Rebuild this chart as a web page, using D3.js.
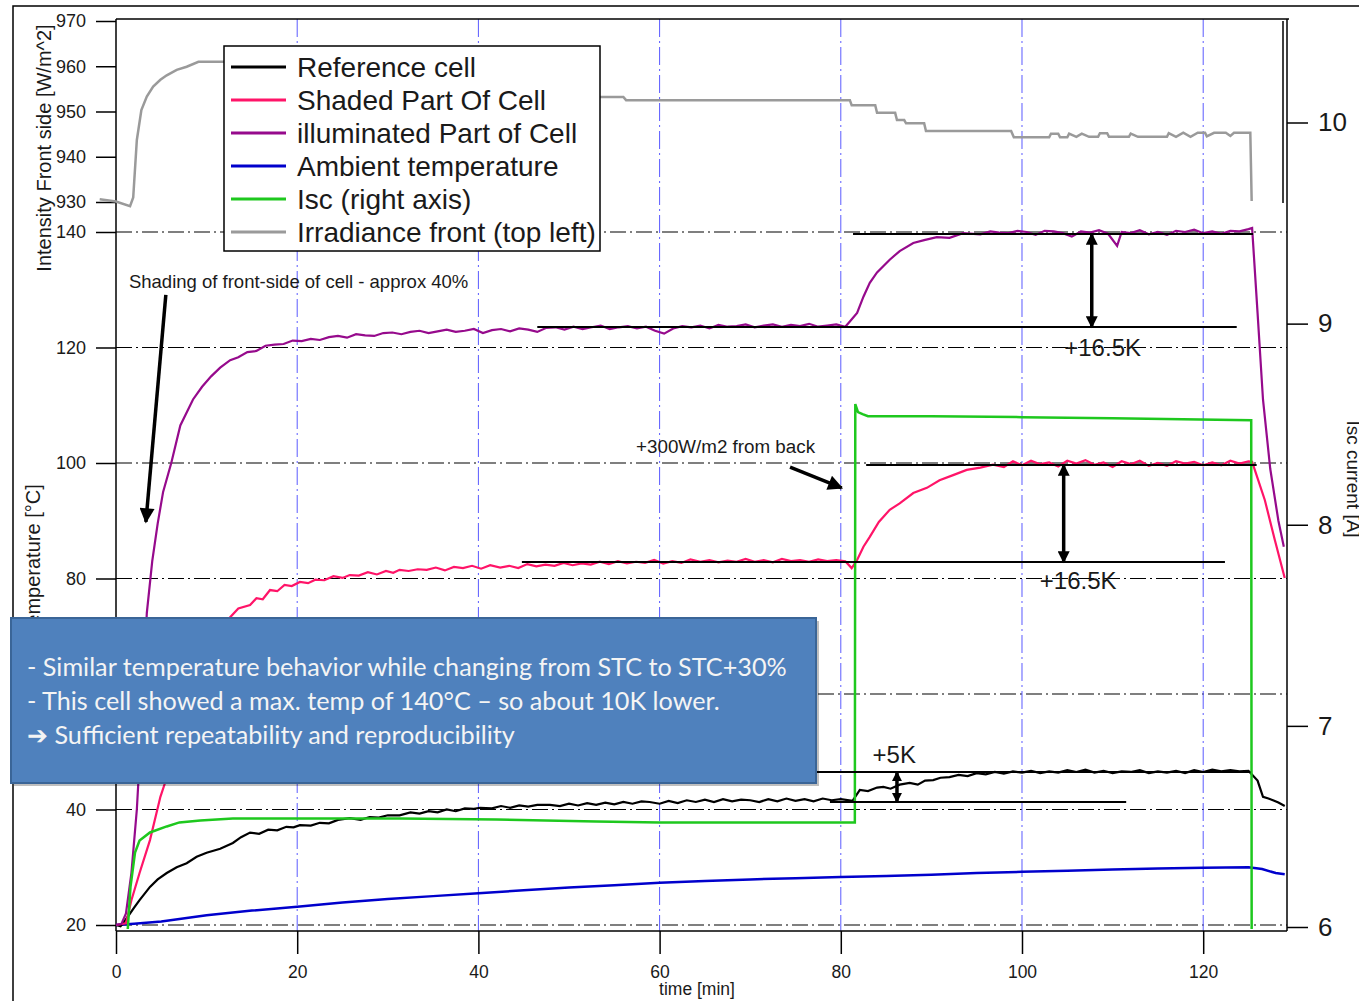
<!DOCTYPE html>
<html>
<head>
<meta charset="utf-8">
<script src="https://cdn.jsdelivr.net/npm/d3@7"></script>
<style>
body { margin: 0; background: #fff; }
svg { display: block; font-family: Arial, "Liberation Sans", sans-serif; }
</style>
</head>
<body>
<script>
// ---- data ----
var timeTicks = [0, 20, 40, 60, 80, 100, 120];
var tempTicks = [20, 40, 60, 80, 100, 120, 140];
var tempHiddenLabel = 60;   // label sits behind the note box
var iscTicks = [6, 7, 8, 9, 10];
var irrTicks = [930, 940, 950, 960, 970];

var seriesNames = ["Reference cell", "Shaded Part Of Cell", "illuminated Part of Cell",
                   "Ambient temperature", "Isc (right axis)", "Irradiance front (top left)"];

// [time min, deg C]
var illuminated = [[0,20],[0.6,20.2],[1.1,22],[1.7,29],[2.3,40],[2.9,57],[3.4,74],[4,83],[4.6,89.5],[5.2,95],[6.1,100],[7.1,106.5],[8.5,111],[9.5,113.2],[10.5,115],[11.5,116.5],[12.6,117.8],[13.5,118.3],[14.5,119.2],[15.5,119.4],[16.5,120.3],[17.5,120.5],[18.5,120.6],[19.5,121.2],[20.5,121.1],[21.5,121.5],[22.5,121.3],[23.5,121.8],[24.5,122.0],[25.5,121.7],[26.5,122.3],[27.5,122.1],[28.5,122.0],[29.5,122.5],[30.5,122.6],[31.5,122.3],[32.5,122.7],[33.5,122.9],[34.5,122.5],[35.5,122.8],[36.5,123.1],[37.5,122.7],[38.5,122.9],[39.5,123.2],[40.5,122.5],[41.5,123.0],[42.5,123.2],[43.5,122.8],[44.5,123.3],[45.5,123.1],[46.5,122.7],[47.5,123.4],[48.5,123.5],[49.5,123.1],[50.5,123.6],[51.5,123.2],[52.5,123.5],[53.5,123.8],[54.5,123.2],[55.5,123.5],[56.5,123.7],[57.5,123.3],[58.5,123.6],[59.5,122.9],[60.5,122.4],[61.5,123.3],[62.5,123.7],[63.5,123.5],[64.5,123.8],[65.5,123.3],[66.5,123.9],[67.5,123.6],[68.5,123.7],[69.5,124.0],[70.5,123.5],[71.5,123.8],[72.5,124.0],[73.5,123.6],[74.5,123.9],[75.5,123.7],[76.5,124.1],[77.5,123.6],[78.5,123.8],[79.5,124.0],[80.5,123.6],[81,124.5],[81.8,126],[82.5,128.8],[83.2,131.2],[84,133],[85.4,135.2],[86.5,136.7],[88,138.1],[89.2,138.6],[90.6,139.1],[92,139.0],[93.5,139.8],[95.4,139.6],[96.5,140.1],[97.5,139.9],[98.5,139.8],[99.5,140.2],[100.5,140.0],[101.5,139.5],[102.5,140.2],[103.5,140.1],[104.5,139.8],[105.5,139.2],[106.5,140.1],[107.5,139.9],[108.5,140.3],[109.5,139.7],[110.5,137.6],[111,140.0],[112,139.8],[113,140.3],[114,139.6],[115,140.0],[116,139.5],[117,140.2],[118,140.0],[119,140.4],[120,139.8],[121,140.1],[122,139.7],[123,140.2],[124,140.1],[125,140.5],[125.4,140.7],[126,126],[126.6,111],[127.4,99],[128.3,90],[128.9,85.5]];

var shaded = [[0,20],[1.1,20.3],[1.7,24.3],[2.6,29],[3.75,34.7],[4.9,42.2],[5.6,45.5],[7,53],[8.5,60],[10,66],[11.5,70.5],[12.6,73.3],[13.5,74.8],[14.8,75.4],[15.5,76.6],[16.2,76.4],[17,78],[17.8,77.8],[18.6,78.9],[19.4,78.7],[20.3,79.4],[21.2,79.2],[22,79.8],[23,79.7],[24,80.4],[25,80.1],[25.8,80.6],[26.8,80.5],[27.8,81.1],[28.8,80.7],[29.8,81.3],[30.6,81.0],[31.3,81.5],[32.3,81.3],[33.3,81.6],[34.3,81.5],[35.3,81.9],[36.3,81.4],[37.3,82.0],[38.3,81.8],[39.3,82.2],[40.3,81.7],[41.3,82.3],[42.4,81.9],[43.4,82.2],[44.4,81.8],[45.4,82.5],[46.4,82.1],[47.4,82.4],[48.4,82.2],[49.4,82.7],[50.4,82.3],[51.4,82.6],[52.4,82.4],[53.4,82.9],[54.4,82.5],[55.4,83.0],[56.4,82.6],[57.4,82.9],[58.4,82.7],[59.4,83.2],[60.4,82.6],[61.4,83.0],[62.4,82.7],[63.4,83.3],[64.5,82.9],[65.5,83.2],[66.5,82.8],[67.5,83.1],[68.5,82.9],[69.5,83.4],[70.5,82.9],[71.5,83.2],[72.5,82.8],[73.5,83.4],[74.5,83.0],[75.5,83.2],[76.5,82.9],[77.5,83.3],[78.5,83.0],[79.5,83.2],[80.5,83.0],[81.2,81.8],[81.8,83.2],[82.5,85.5],[83.2,87.2],[84.2,89.8],[85.4,91.9],[86.5,93.0],[88,94.8],[89.5,95.7],[90.9,97],[92.4,97.9],[93.9,98.8],[95.4,99.2],[96.8,99.7],[98,99.3],[99,100.3],[100,99.6],[101,100.4],[102,99.8],[103,100.1],[104,99.4],[105,100.4],[106,99.9],[107,100.5],[108,99.7],[109,100.1],[110,99.3],[111,100.3],[112,99.8],[113,100.4],[114,99.5],[115,100.0],[116,99.5],[117,100.3],[118,99.9],[119,100.2],[120,99.6],[121,100.1],[122,99.6],[123,100.4],[124,99.9],[125,100.3],[125.4,100.2],[126.8,93.6],[127.9,86.7],[129,80.1]];

var reference = [[0,20],[0.5,19.8],[1.1,21],[2,23],[2.6,24.3],[3.75,26.6],[4.6,27.9],[5.6,29],[6.7,30],[7.8,30.7],[8.9,31.8],[10,32.5],[11.5,33.2],[12.9,34.2],[13.8,35.2],[14.8,36],[15.8,35.8],[16.8,36.5],[17.8,36.4],[18.8,37.0],[19.6,36.9],[20.3,37.3],[21.5,37.2],[22.5,37.7],[23.5,37.6],[24.5,38.2],[25.8,38.5],[27,38.2],[28,38.7],[29,38.6],[30,39.0],[31.3,39.0],[32.5,39.5],[33.5,39.3],[34.5,39.7],[35.5,39.5],[36.5,40.0],[37.5,39.7],[38.5,40.2],[39.5,40.1],[40.2,40.3],[41.5,40.2],[42.5,40.6],[43.5,40.3],[44.5,40.7],[45.5,40.5],[46.5,40.8],[47.9,40.8],[49,40.6],[50,41.0],[51,40.7],[52,41.1],[53,40.8],[54,41.2],[55,40.9],[56,41.3],[57,41.0],[58,41.4],[58.9,41.3],[60,41.0],[61,41.5],[62,41.1],[63,41.6],[64,41.3],[65,41.7],[66,41.3],[67,41.8],[68,41.4],[69,41.7],[70,41.6],[71,41.3],[72,41.8],[73,41.4],[74,41.9],[75,41.5],[76,41.8],[77,41.4],[78,41.9],[79,41.6],[80,41.8],[81.3,41.5],[82.1,43.4],[83,43.2],[84,43.8],[84.7,43.9],[85.5,43.6],[86.5,44.3],[87.6,44.6],[88.5,44.3],[89.3,45.0],[90.2,45.1],[91,45.5],[92,45.6],[93,46.0],[94,45.8],[95,46.3],[96,46.1],[97,46.5],[98,46.2],[99,46.6],[100,46.4],[101,46.7],[102,46.3],[103,46.6],[104,46.4],[105,46.8],[106,46.5],[107,46.9],[108,46.4],[109,46.7],[110,46.3],[111,46.6],[112,46.5],[113,46.8],[114,46.3],[115,46.6],[116,46.4],[117,46.7],[118,46.3],[119,46.8],[120,46.5],[121,46.9],[122,46.6],[123,46.8],[124,46.6],[125,46.7],[125.3,46.2],[126,45.0],[126.6,42.2],[127.2,41.9],[127.7,41.6],[128.3,41.2],[129,40.6]];

var ambient = [[0,20],[2,20.2],[5,20.6],[10,21.7],[15,22.5],[20.3,23.2],[25,23.9],[30,24.5],[35,25],[40,25.5],[45,26],[50,26.5],[55,26.9],[60,27.3],[65,27.6],[70,27.9],[75,28.1],[80,28.3],[85,28.5],[90,28.7],[95,29.0],[100,29.2],[105,29.4],[110,29.6],[115,29.8],[120,29.9],[125,30.0],[126.5,29.7],[128,29.0],[129,28.8]];

// [time min, A]
var isc = [[1.3,5.99],[1.6,6.2],[2.1,6.37],[2.6,6.43],[3.75,6.47],[5.6,6.5],[7,6.52],[9.3,6.53],[12.9,6.54],[20.3,6.54],[31.3,6.54],[42,6.535],[53,6.525],[60,6.52],[70,6.52],[81.55,6.52],[81.6,8.6],[81.9,8.56],[82.4,8.55],[83,8.54],[90,8.54],[100,8.535],[110,8.53],[125.3,8.52],[125.35,5.99]];

// [time min, W/m2]
var irradiance = [[-1.8,930.6],[0,930.1],[1.55,929.1],[1.9,931],[2.3,943.7],[2.8,950.3],[3.4,953.3],[4.1,955.5],[4.9,957],[5.6,958],[6.7,959.2],[7.8,959.9],[9.1,961],[32,961],[32.2,953.2],[56,953.2],[56.3,952.5],[81,952.5],[81.2,951.4],[83.8,951.4],[84,949.7],[86,949.7],[86.2,948.1],[87,948.1],[87.2,947.4],[89.2,947.4],[89.4,945.7],[98.8,945.7],[99.1,944.3],[103,944.3],[103.2,945.1],[104,945.1],[104.2,944.3],[105,944.3],[105.2,945.1],[106,944.4],[106.6,945.1],[107.4,944.4],[108.4,944.4],[108.6,945.2],[109.4,945.2],[109.6,944.4],[111.8,944.4],[112,945.1],[112.8,944.4],[116,944.4],[116.2,945.2],[117,944.4],[117.8,945.3],[118.6,944.4],[119.4,945.3],[120.2,945.3],[120.4,944.5],[121.2,945.3],[122.5,945.3],[123,944.6],[123.4,945.3],[125.2,945.3],[125.35,930.2]];

// annotation levels in data units: [t0, t1, temp]
var refLines = [[81.35,125.5,139.65],[46.5,123.7,123.55],[82.8,125.9,99.65],[44.8,122.4,82.85],[71.1,125.2,46.5],[78.8,111.5,41.3]];
// double arrows: [time, tempTop, tempBottom]
var deltaArrows = [[107.7,139.65,123.55],[104.6,99.65,82.85],[86.2,46.5,41.3]];
var deltaLabels = [[108.9,118.6,"+16.5K"],[106.2,78.2,"+16.5K"],[85.9,48.05,"+5K"]];

var noteLines = ["- Similar temperature behavior while changing from STC to STC+30%",
                 "- This cell showed a max. temp of 140°C \u2013 so about 10K lower.",
                 "\u2794 Sufficient repeatability and reproducibility"];

var colors = ["#000000", "#ff1468", "#960a8c", "#0000cc", "#1ec81e", "#9a9a9a"];

// ---- layout ----
var w = 1359, h = 1001;
var svg = d3.select("body").append("svg").attr("width", w).attr("height", h);

var x = d3.scaleLinear().domain([0, 129.25]).range([116, 1287]);
var yT = d3.scaleLinear().domain([20, 140]).range([925, 232]);
var yI = d3.scaleLinear().domain([6, 10]).range([927, 122.5]);
var yIrr = d3.scaleLinear().domain([930, 970]).range([202, 21]);

var defs = svg.append("defs");
function marker(id, mw, mh) {
  defs.append("marker").attr("id", id)
    .attr("viewBox", "0 0 10 10").attr("refX", 9).attr("refY", 5)
    .attr("markerWidth", mw).attr("markerHeight", mh)
    .attr("markerUnits", "userSpaceOnUse").attr("orient", "auto-start-reverse")
    .append("path").attr("d", "M0,0L10,5L0,10z").attr("fill", "#000");
}
marker("big", 20, 15);
marker("mid", 16, 12);
marker("small", 12, 10);

// outer frame
svg.append("rect").attr("x", 13).attr("y", 6).attr("width", 1400).attr("height", 1100)
  .attr("fill", "none").attr("stroke", "#000").attr("stroke-width", 1.5);

// grid
svg.append("g").selectAll("line").data(tempTicks).enter().append("line")
  .attr("x1", 116).attr("x2", 1287)
  .attr("y1", d => yT(d)).attr("y2", d => yT(d))
  .attr("stroke", "#000").attr("stroke-width", 1.2)
  .attr("stroke-dasharray", "16,4,2,4");
svg.append("g").selectAll("line").data(timeTicks.slice(1)).enter().append("line")
  .attr("x1", d => x(d)).attr("x2", d => x(d))
  .attr("y1", 19).attr("y2", 931)
  .attr("stroke", "#5a5aff").attr("stroke-width", 1)
  .attr("stroke-dasharray", "18,4,2,4");

// axes
function styleAxis(g, size) {
  g.select(".domain").remove();
  g.selectAll(".tick line").attr("stroke", "#000").attr("stroke-width", 1.5);
  g.selectAll(".tick text").attr("font-size", size).attr("fill", "#1a1a1a")
    .attr("font-family", "Arial, 'Liberation Sans', sans-serif");
}
svg.append("g").attr("transform", "translate(116,0)")
  .call(d3.axisLeft(yT).tickValues(tempTicks).tickSize(20).tickPadding(10)
    .tickFormat(d => d === tempHiddenLabel ? "" : d))
  .call(g => styleAxis(g, 18));
svg.append("g").attr("transform", "translate(116,0)")
  .call(d3.axisLeft(yIrr).tickValues(irrTicks).tickSize(20).tickPadding(10))
  .call(g => styleAxis(g, 18));
svg.append("g").attr("transform", "translate(0,931)")
  .call(d3.axisBottom(x).tickValues(timeTicks).tickSize(23).tickPadding(12))
  .call(g => styleAxis(g, 17.5));
svg.append("g").attr("transform", "translate(1287,0)")
  .call(d3.axisRight(yI).tickValues(iscTicks).tickSize(21).tickPadding(10)
    .tickFormat(d3.format("d")))
  .call(g => styleAxis(g, 26));

// plot frame
var frame = svg.append("g").attr("stroke", "#000").attr("stroke-width", 1.5);
frame.append("line").attr("x1", 116).attr("x2", 116).attr("y1", 19).attr("y2", 931);
frame.append("line").attr("x1", 116).attr("x2", 1289).attr("y1", 19).attr("y2", 19);
frame.append("line").attr("x1", 1287).attr("x2", 1287).attr("y1", 19).attr("y2", 931);
frame.append("line").attr("x1", 116).attr("x2", 1287).attr("y1", 931).attr("y2", 931);
frame.append("line").attr("x1", 1283).attr("x2", 1283).attr("y1", 21).attr("y2", 203);

// axis titles
svg.append("text").attr("transform", "translate(51,148) rotate(-90)")
  .attr("text-anchor", "middle").attr("font-size", 20).attr("fill", "#1a1a1a")
  .text("Intensity Front side [W/m^2]");
svg.append("text").attr("transform", "translate(40,560) rotate(-90)")
  .attr("text-anchor", "middle").attr("font-size", 20).attr("fill", "#1a1a1a")
  .text("Temperature [°C]");
svg.append("text").attr("transform", "translate(1347,479) rotate(90)")
  .attr("text-anchor", "middle").attr("font-size", 19).attr("fill", "#1a1a1a")
  .text("Isc current [A]");
svg.append("text").attr("x", 697).attr("y", 995)
  .attr("text-anchor", "middle").attr("font-size", 17.5).attr("fill", "#1a1a1a")
  .text("time [min]");

// series
var lineT = d3.line().x(d => x(d[0])).y(d => yT(d[1]));
var lineI = d3.line().x(d => x(d[0])).y(d => yI(d[1]));
var lineIrr = d3.line().x(d => x(d[0])).y(d => yIrr(d[1]));

svg.append("path").attr("d", lineIrr(irradiance)).attr("fill", "none")
  .attr("stroke", colors[5]).attr("stroke-width", 2.5);
svg.append("path").attr("d", lineT(ambient)).attr("fill", "none")
  .attr("stroke", colors[3]).attr("stroke-width", 2.5);
svg.append("path").attr("d", lineT(reference)).attr("fill", "none")
  .attr("stroke", colors[0]).attr("stroke-width", 2.2);
svg.append("path").attr("d", lineT(shaded)).attr("fill", "none")
  .attr("stroke", colors[1]).attr("stroke-width", 2.2);
svg.append("path").attr("d", lineT(illuminated)).attr("fill", "none")
  .attr("stroke", colors[2]).attr("stroke-width", 2.2);
svg.append("path").attr("d", lineI(isc)).attr("fill", "none")
  .attr("stroke", colors[4]).attr("stroke-width", 2.5);

// annotation lines and arrows
svg.append("g").selectAll("line").data(refLines).enter().append("line")
  .attr("x1", d => x(d[0])).attr("x2", d => x(d[1]))
  .attr("y1", d => yT(d[2])).attr("y2", d => yT(d[2]))
  .attr("stroke", "#000").attr("stroke-width", 2);
svg.append("g").selectAll("line").data(deltaArrows).enter().append("line")
  .attr("x1", d => x(d[0])).attr("x2", d => x(d[0]))
  .attr("y1", d => yT(d[1])).attr("y2", d => yT(d[2]))
  .attr("stroke", "#000").attr("stroke-width", 3.5)
  .attr("marker-start", (d, i) => i < 2 ? "url(#mid)" : "url(#small)")
  .attr("marker-end", (d, i) => i < 2 ? "url(#mid)" : "url(#small)");
svg.append("g").selectAll("text").data(deltaLabels).enter().append("text")
  .attr("x", d => x(d[0])).attr("y", d => yT(d[1]))
  .attr("text-anchor", "middle").attr("font-size", 24).attr("fill", "#1a1a1a")
  .text(d => d[2]);

svg.append("text").attr("x", x(1.43)).attr("y", yT(130.3))
  .attr("font-size", 18.5).attr("fill", "#1a1a1a")
  .text("Shading of front-side of cell - approx 40%");
svg.append("line").attr("x1", x(5.5)).attr("y1", yT(129.1)).attr("x2", x(3.3)).attr("y2", yT(89.8))
  .attr("stroke", "#000").attr("stroke-width", 3.5).attr("marker-end", "url(#big)");
svg.append("text").attr("x", x(57.4)).attr("y", yT(101.7))
  .attr("font-size", 18.8).attr("fill", "#1a1a1a")
  .text("+300W/m2 from back");
svg.append("line").attr("x1", x(74.4)).attr("y1", yT(99.3)).attr("x2", x(80.1)).attr("y2", yT(95.7))
  .attr("stroke", "#000").attr("stroke-width", 3.5).attr("marker-end", "url(#big)");

// legend
var lg = svg.append("g");
lg.append("rect").attr("x", 224).attr("y", 46).attr("width", 376).attr("height", 205)
  .attr("fill", "#fff").attr("stroke", "#000").attr("stroke-width", 1.5);
var row = lg.selectAll("g.row").data(seriesNames).enter().append("g")
  .attr("transform", (d, i) => "translate(0," + (67 + i * 33) + ")");
row.append("line").attr("x1", 231).attr("x2", 286)
  .attr("stroke", (d, i) => colors[i]).attr("stroke-width", 3);
row.append("text").attr("x", 297).attr("dy", "0.35em")
  .attr("font-size", 28).attr("fill", "#1a1a1a").text(d => d);

// note box
var nb = svg.append("g");
nb.append("rect").attr("x", 14).attr("y", 621).attr("width", 805).attr("height", 165)
  .attr("fill", "#000").attr("opacity", 0.25);
nb.append("rect").attr("x", 11).attr("y", 618).attr("width", 805).attr("height", 165)
  .attr("fill", "#4f81bd").attr("stroke", "#3a6597").attr("stroke-width", 2);
nb.selectAll("text").data(noteLines).enter().append("text")
  .attr("x", 27).attr("y", (d, i) => 676 + i * 34)
  .attr("font-family", "Lato, 'Open Sans', sans-serif")
  .attr("font-size", 25.2).attr("fill", "#f4f4f4")
  .text(d => d);
</script>
</body>
</html>
